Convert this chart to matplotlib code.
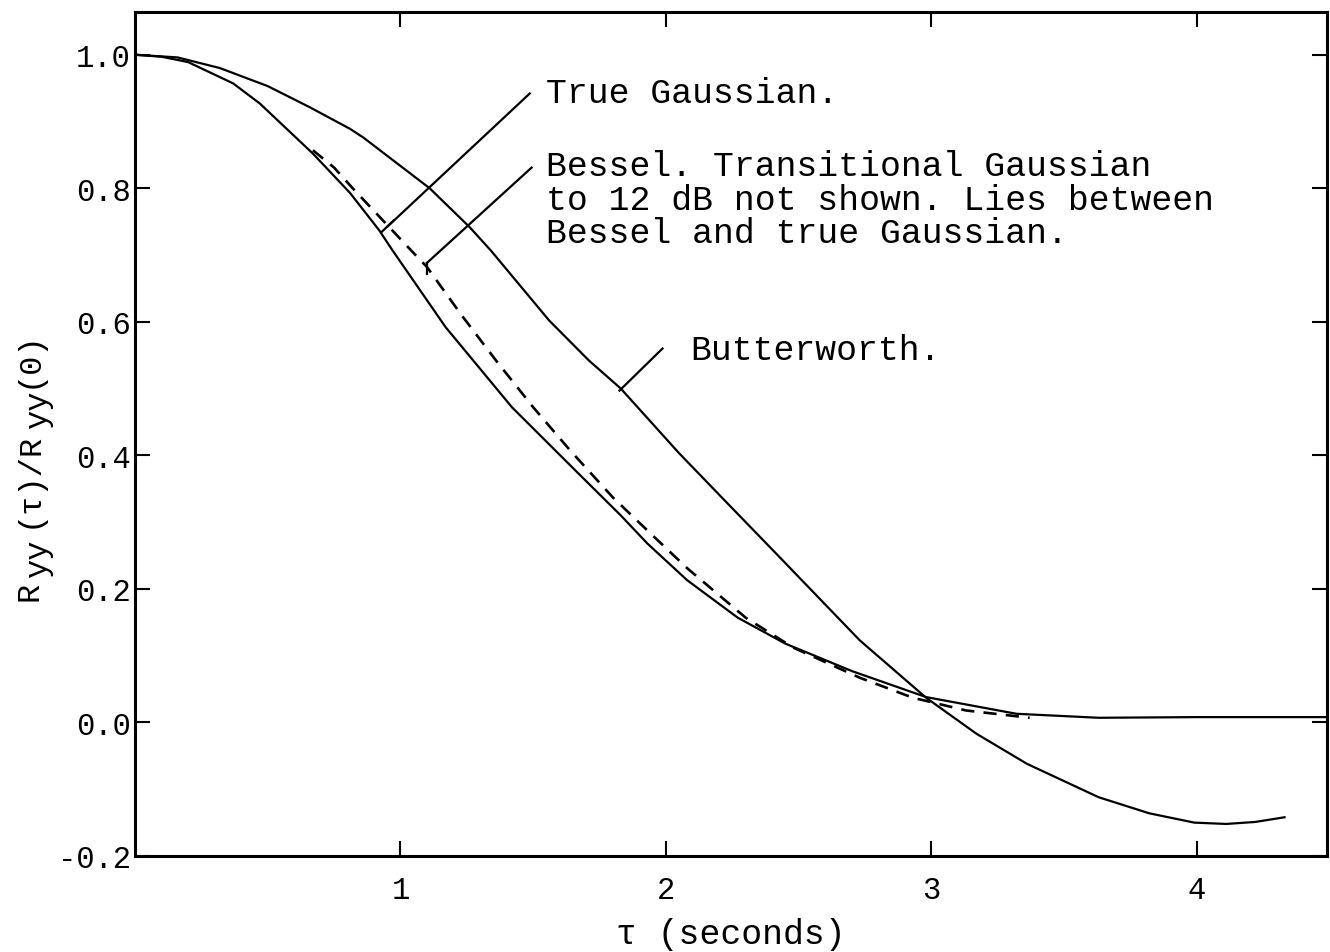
import matplotlib
matplotlib.use("Agg")
import matplotlib.pyplot as plt

# ----------------------------
# Data
# ----------------------------
bw_t = [0, 0.16, 0.32, 0.5, 0.66, 0.81, 0.86, 1.11, 1.26, 1.34, 1.56, 1.71,
        1.83, 2.05, 2.22, 2.41, 2.73, 2.98, 3.17, 3.36, 3.63, 3.82, 3.99,
        4.11, 4.22, 4.33]
bw_r = [1.0, 0.996, 0.98, 0.953, 0.921, 0.889, 0.876, 0.80, 0.742, 0.707,
        0.602, 0.542, 0.50, 0.403, 0.333, 0.255, 0.123, 0.037, -0.017,
        -0.062, -0.112, -0.136, -0.150, -0.152, -0.149, -0.142]

gauss_t = [0, 0.1, 0.2, 0.37, 0.47, 0.59, 0.67, 0.81, 0.92, 0.97, 1.17, 1.42,
           1.67, 1.83, 1.93, 2.08, 2.27, 2.45, 2.70, 2.98, 3.32, 3.63, 4.0,
           4.49]
gauss_r = [1.0, 0.997, 0.989, 0.957, 0.927, 0.882, 0.852, 0.793, 0.737, 0.707,
           0.592, 0.472, 0.373, 0.31, 0.268, 0.213, 0.157, 0.118, 0.077,
           0.038, 0.013, 0.007, 0.008, 0.008]

bessel_t = [0.67, 0.75, 0.82, 1.04, 1.10, 1.23, 1.36, 1.50, 1.64, 1.80, 1.95,
            2.08, 2.30, 2.48, 2.73, 2.93, 3.13, 3.37]
bessel_r = [0.857, 0.831, 0.80, 0.707, 0.682, 0.610, 0.542, 0.472, 0.407,
            0.337, 0.280, 0.231, 0.157, 0.112, 0.067, 0.037, 0.018, 0.007]

x_ticks = [1, 2, 3, 4]
y_ticks = [-0.2, 0.0, 0.2, 0.4, 0.6, 0.8, 1.0]
y_ticklabels = ["-0.2", "0.0", "0.2", "0.4", "0.6", "0.8", "1.0"]

# ----------------------------
# Style
# ----------------------------
plt.rcParams["font.family"] = ["Liberation Mono", "DejaVu Sans Mono"]

W, H = 1330, 953
fig = plt.figure(figsize=(W / 100, H / 100), dpi=100)
ax = fig.add_axes([135 / W, 1 - 857 / H, 1192 / W, 844 / H])

ax.plot(bw_t, bw_r, color="black", lw=1.6)
ax.plot(gauss_t, gauss_r, color="black", lw=1.6)
ax.plot(bessel_t, bessel_r, color="black", lw=1.9, dashes=(5, 3.5))

# leader lines
ax.plot([0.952, 1.487], [0.743, 0.942], color="black", lw=1.6)
ax.plot([0.93, 0.975], [0.735, 0.752], color="black", lw=1.6)
ax.plot([1.099, 1.494], [0.688, 0.831], color="black", lw=1.6)
ax.plot([1.099, 1.099], [0.688, 0.672], color="black", lw=1.6)
ax.plot([1.825, 1.987], [0.497, 0.560], color="black", lw=1.6)

ax.text(1.55, 0.944, "True Gaussian.", fontsize=25, va="center")
ax.text(1.55, 0.859,
        "Bessel. Transitional Gaussian\nto 12 dB not shown. Lies between\nBessel and true Gaussian.",
        fontsize=25, va="top", linespacing=1.03)
ax.text(2.09, 0.559, "Butterworth.", fontsize=25, va="center")

ax.set_xlim(0, 4.49)
ax.set_ylim(-0.2, 1.064)
ax.set_xticks(x_ticks)
ax.set_xticklabels([str(v) for v in x_ticks])
ax.set_yticks(y_ticks)
ax.set_yticklabels(y_ticklabels)

ax.tick_params(direction="in", length=11, width=1.5, top=True, right=True,
               labelsize=22)
ax.tick_params(axis="x", pad=14)
ax.tick_params(axis="y", pad=3)
for s in ax.spines.values():
    s.set_linewidth(2.2)

ax.set_xlabel("\u03c4 (seconds)", fontsize=25, labelpad=8)

# y label built from pieces so the "yy" subscripts stay full size
ylab_pieces = [("R", 601, 37), ("yy", 577, 46), ("(\u03c4)/R", 528, 37),
               ("yy", 428, 46), ("(0)", 388, 37)]
for txt, ypx, xpx in ylab_pieces:
    fig.text(xpx / W, 1 - ypx / H, txt, fontsize=23, rotation=90,
             rotation_mode="anchor", ha="left", va="baseline")

plt.savefig("out.png", dpi=100)
plt.close()
